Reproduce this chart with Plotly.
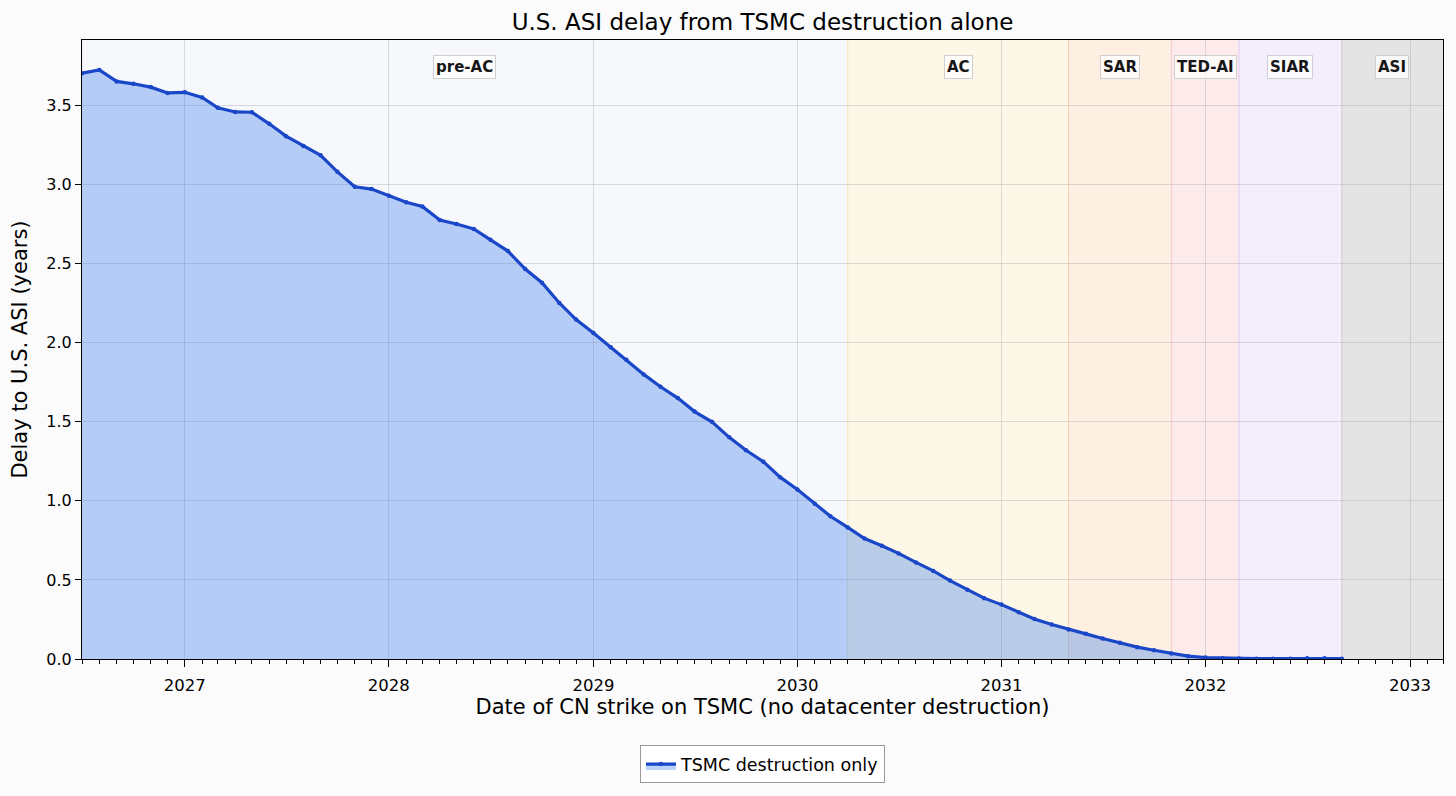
import pandas as pd
import plotly.graph_objects as go

# monthly strike dates, Jul 2026 .. Sep 2032
strike_dates = pd.date_range("2026-07-01", "2032-09-01", freq="MS")

delay_years = [
    3.705, 3.726, 3.653, 3.638, 3.617, 3.580,
    3.584, 3.552, 3.486, 3.460, 3.458, 3.385, 3.307, 3.244, 3.186, 3.081, 2.987, 2.972,
    2.930, 2.889, 2.862, 2.776, 2.751, 2.720, 2.651, 2.580, 2.466, 2.380, 2.252, 2.147,
    2.062, 1.972, 1.892, 1.800, 1.722, 1.650, 1.565, 1.500, 1.402, 1.320, 1.248, 1.150,
    1.072, 0.982, 0.903, 0.832, 0.762, 0.716, 0.668, 0.611, 0.557, 0.496, 0.438, 0.385,
    0.344, 0.295, 0.253, 0.218, 0.187, 0.159, 0.130, 0.102, 0.075, 0.055, 0.034, 0.018,
    0.009, 0.005, 0.003, 0.002, 0.002, 0.002, 0.004, 0.004, 0.002,
]

# milestone phases (start, end)
phase_names = ["pre-AC", "AC", "SAR", "TED-AI", "SIAR", "ASI"]
phase_starts = ["2026-07-01", "2030-04-01", "2031-05-01", "2031-11-01", "2032-03-01", "2032-09-01"]
phase_ends = ["2030-04-01", "2031-05-01", "2031-11-01", "2032-03-01", "2032-09-01", "2033-03-01"]
phase_fill = ["#f6f8fc", "#fcf7e7", "#fdefe2", "#fdebec", "#f4eefc", "#e4e4e5"]
phase_edge = ["#e3e8f4", "#f1e3b8", "#f5d2b4", "#f3c9d2", "#ddd0f0", "#c9c9cc"]

FONT = "DejaVu Sans"

fig = go.Figure()

# shaded phase regions
for start, end, fc, ec in zip(phase_starts, phase_ends, phase_fill, phase_edge):
    fig.add_vrect(x0=start, x1=end, fillcolor=fc, line_width=0, layer="below")
    fig.add_shape(type="line", x0=start, x1=start, y0=0, y1=1, yref="paper",
                  line=dict(color=ec, width=1), layer="below")

# phase labels at region midpoints
for name, start, end in zip(phase_names, phase_starts, phase_ends):
    s, e = pd.Timestamp(start), pd.Timestamp(end)
    mid = s + (e - s) / 2
    fig.add_annotation(x=mid, y=0.957, yref="paper", yanchor="middle", text="<b>%s</b>" % name,
                       showarrow=False, font=dict(family=FONT, size=15, color="#161616"),
                       bgcolor="rgba(255,255,255,0.75)", bordercolor="#cfcfcf",
                       borderwidth=1, borderpad=2)

fig.add_trace(go.Scatter(
    x=strike_dates, y=delay_years, name="TSMC destruction only",
    mode="lines+markers",
    line=dict(color="#1a46c8", width=3.2),
    marker=dict(size=4.5, color="#1a46c8"),
    fill="tozeroy", fillcolor="rgba(50,118,234,0.33)",
))

# page adds an 8px body margin, so the figure is 16px smaller than the window
fig.update_layout(
    width=1440,
    height=780,
    margin=dict(l=74, r=5, t=32, b=119),
    paper_bgcolor="#fbfbfb",
    plot_bgcolor="#fbfbfb",
    font=dict(family=FONT, size=16, color="black"),
    title=dict(text="U.S. ASI delay from TSMC destruction alone", x=0.5, xref="paper",
               y=0.982, yanchor="middle", font=dict(family=FONT, size=23)),
    showlegend=True,
    legend=dict(orientation="h", x=0.5, xanchor="center", y=-0.17, yanchor="middle",
                bgcolor="white", bordercolor="#999999", borderwidth=1,
                font=dict(family=FONT, size=17.5)),
    xaxis=dict(
        range=["2026-07-01", "2033-03-01"],
        tick0="2027-01-01", dtick="M12", tickformat="%Y",
        ticks="outside", ticklen=7, tickcolor="black", ticklabelstandoff=4,
        minor=dict(dtick="M1", ticks="outside", ticklen=4, tickcolor="black", showgrid=False),
        showgrid=True, gridcolor="rgba(160,160,170,0.35)", gridwidth=1,
        showline=True, linecolor="black", linewidth=1, mirror=True,
        title=dict(text="Date of CN strike on TSMC (no datacenter destruction)",
                   font=dict(size=21), standoff=4),
        tickfont=dict(size=16.5),
    ),
    yaxis=dict(
        range=[0, 3.915], dtick=0.5, tickformat=".1f",
        ticks="outside", ticklen=6, tickcolor="black",
        showgrid=True, gridcolor="rgba(160,160,170,0.35)", gridwidth=1,
        showline=True, linecolor="black", linewidth=1, mirror=True,
        zeroline=False,
        title=dict(text="Delay to U.S. ASI (years)", font=dict(size=21), standoff=12),
        tickfont=dict(size=16),
    ),
)

fig.write_html("out.html", post_script="document.body.style.background='#fbfbfb';")
